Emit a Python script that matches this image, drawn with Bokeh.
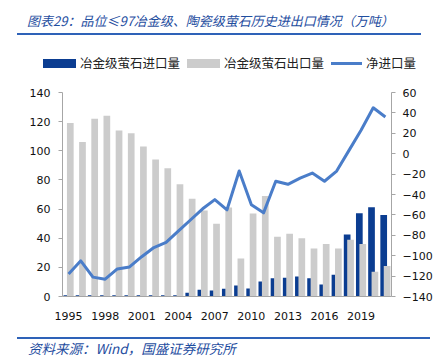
from bokeh.plotting import figure
from bokeh.layouts import column
from bokeh.models import Range1d, LinearAxis, FixedTicker, ColumnDataSource, Div
from bokeh.transform import dodge
from bokeh.embed import file_html
from bokeh.resources import INLINE

# ---------------- data ----------------
years = list(range(1995, 2022))
imports = [0.8, 0.8, 0.8, 0.8, 0.8, 0.8, 0.8, 0.8, 0.8, 0.8, 2.5, 4.6, 4.1, 5.3, 7.5,
           5.5, 10.3, 12.6, 12.8, 13.7, 12.6, 8.2, 14.9, 42.5, 57.2, 61.3, 56.0]
exports = [119, 106, 122, 124, 114, 112, 103, 94, 88, 77, 67, 59, 50, 61, 26,
           57, 69, 41, 43, 40, 33, 36, 33, 39, 36, 17, 21]
net = [-118, -105, -121, -123, -113, -111, -101, -92, -87, -76, -65, -54, -45, -55, -17,
       -50, -58, -27, -30, -24, -19, -27, -17, 3, 23, 45, 36]
x_tick_years = [1995, 1998, 2001, 2004, 2007, 2010, 2013, 2016, 2019]
left_ticks = [0, 20, 40, 60, 80, 100, 120, 140]
right_ticks = [-140, -120, -100, -80, -60, -40, -20, 0, 20, 40, 60]

title_text = "图表29：品位≤97冶金级、陶瓷级萤石历史进出口情况（万吨）"
source_text = "资料来源：Wind，国盛证券研究所"
name_imp = "冶金级萤石进口量"
name_exp = "冶金级萤石出口量"
name_net = "净进口量"

src = ColumnDataSource(dict(year=years, imp=imports, exp=exports, net=net))

CJK = "'Noto Sans CJK SC'"
NUM = "DejaVu Sans"
AXIS_COLOR = "#A6A6A6"
BLUE_DARK = "#0B3D91"
GREY = "#CCCCCC"
LINE_BLUE = "#4A7DC9"
TITLE_BLUE = "#1F4E9F"
RULE_BLUE = "#2E62B8"
W = 443


def box(left, top, w, h, color):
    return (f'<div style="position:absolute;left:{left}px;top:{top}px;width:{w}px;'
            f'height:{h}px;background:{color};"></div>')


def txt(left, top, s, size, color, italic=False, lh=17):
    st = "italic" if italic else "normal"
    return (f'<div style="position:absolute;left:{left}px;top:{top}px;font-family:{CJK};'
            f'font-size:{size};font-style:{st};line-height:{lh}px;color:{color};'
            f'white-space:nowrap;">{s}</div>')


# ---------------- header: title, rule, legend ----------------
header_html = (
    '<div style="position:relative;width:443px;height:72px;margin:0;padding:0;">'
    + txt(27, 12, title_text, "13px", TITLE_BLUE, italic=True)
    + box(17, 33, 404, 2, RULE_BLUE)
    + box(43, 59, 33, 9, BLUE_DARK) + txt(80, 55, name_imp, "12.5px", "#222222", lh=16)
    + box(187, 59, 33, 9, GREY) + txt(224, 55, name_exp, "12.5px", "#222222", lh=16)
    + box(331, 62, 31, 3, LINE_BLUE) + txt(366, 55, name_net, "12.5px", "#222222", lh=16)
    + '</div>'
)
header = Div(text=header_html, width=W, height=72, margin=0)

# ---------------- main chart ----------------
p = figure(output_backend="svg", toolbar_location=None,
           frame_width=329, frame_height=204,
           min_border_left=62, min_border_right=52, min_border_top=20, min_border_bottom=34,
           x_range=Range1d(1994.5, 2021.5), y_range=Range1d(0, 140), margin=0)
p.extra_y_ranges = {"net": Range1d(-140, 60)}
p.outline_line_color = None
p.xgrid.visible = False
p.ygrid.visible = False

r_imp = p.vbar(x=dodge("year", -0.14, range=p.x_range), top="imp", width=0.55, bottom=0,
               source=src, fill_color=BLUE_DARK, line_color=None)
r_exp = p.vbar(x=dodge("year", 0.14, range=p.x_range), top="exp", width=0.55, bottom=0,
               source=src, fill_color=GREY, line_color=None)
r_net = p.line(x="year", y="net", source=src, y_range_name="net",
               line_color=LINE_BLUE, line_width=3, line_join="round")

xa = p.xaxis[0]
xa.ticker = FixedTicker(ticks=x_tick_years)
xa.axis_line_color = AXIS_COLOR
xa.major_tick_line_color = None
xa.minor_tick_line_color = None
xa.major_label_standoff = 9
xa.major_label_text_font = NUM
xa.major_label_text_font_size = "11px"
xa.major_label_text_color = "#111111"

ya = p.yaxis[0]
ya.ticker = FixedTicker(ticks=left_ticks)
ya.axis_line_color = AXIS_COLOR
ya.major_tick_line_color = AXIS_COLOR
ya.major_tick_out = 4
ya.major_tick_in = 0
ya.minor_tick_line_color = None
ya.major_label_standoff = 8
ya.major_label_text_font = NUM
ya.major_label_text_font_size = "11px"
ya.major_label_text_color = "#111111"

ra = LinearAxis(y_range_name="net", ticker=FixedTicker(ticks=right_ticks))
ra.axis_line_color = AXIS_COLOR
ra.major_tick_line_color = AXIS_COLOR
ra.major_tick_out = 4
ra.major_tick_in = 0
ra.minor_tick_line_color = None
ra.major_label_standoff = 7
ra.major_label_text_font = NUM
ra.major_label_text_font_size = "11px"
ra.major_label_text_color = "#111111"
p.add_layout(ra, "right")

# ---------------- footer: rule and source ----------------
footer_html = (
    '<div style="position:relative;width:443px;height:32px;margin:0;padding:0;">'
    + box(17, 7, 413, 2, RULE_BLUE)
    + txt(28, 10, source_text, "13.5px", TITLE_BLUE, italic=True)
    + '</div>'
)
footer = Div(text=footer_html, width=W, height=32, margin=0)

layout = column(header, p, footer, spacing=0)
open("out.html", "w").write(file_html(layout, INLINE))
